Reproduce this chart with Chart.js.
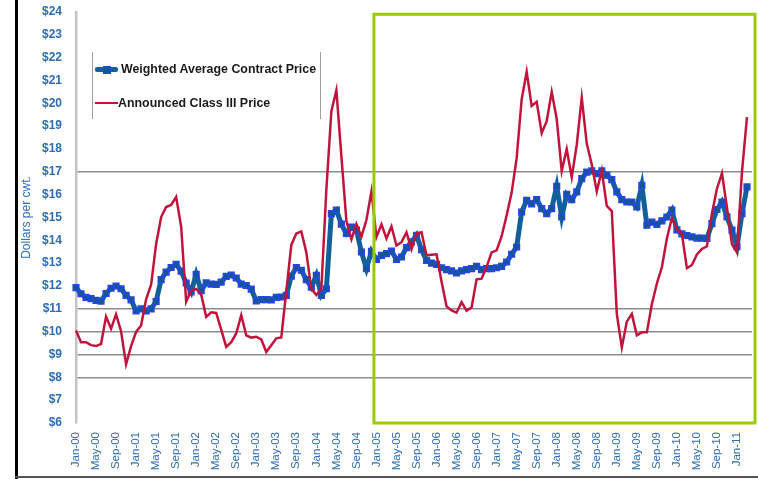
<!DOCTYPE html>
<html>
<head>
<meta charset="utf-8">
<script src="https://cdn.jsdelivr.net/npm/chart.js"></script>
<style>
    body { margin: 0; background: #ffffff; }
    #wrap { position: relative; width: 758px; height: 479px; overflow: hidden; }
    #priceChart { position: absolute; left: 0; top: 0; }
    .frame-left { position: absolute; left: 15px; top: 0; width: 3px; height: 479px; background: #000; }
    .frame-bottom { position: absolute; left: 15px; top: 476px; width: 743px; height: 2px; background: #555; }
    .legend { position: absolute; left: 92px; top: 52px; width: 227px; height: 67px;
              border-left: 1.5px solid #a0a0a0; border-right: 1.5px solid #a0a0a0;
              font: bold 12.4px "Liberation Sans", Arial, sans-serif; color: #1a1a1a; }
    .legend .item { position: absolute; left: 2px; height: 14px; line-height: 14px; white-space: nowrap; }
    .legend .sample { position: absolute; left: 0; top: 50%; width: 23px; }
    .legend .blue { height: 5px; margin-top: -2.5px; background: #11609b; border-radius: 2px; }
    .legend .blue i { position: absolute; left: 8px; top: -1px; width: 6px; height: 6px;
                      background: #0d5a90; border: 1px solid #2a45e0; }
    .legend .red { height: 2.5px; margin-top: -1.25px; background: #c0143c; }
</style>
</head>
<body>
<div id="wrap">
    <canvas id="priceChart" width="758" height="479"></canvas>
    <div class="frame-left"></div>
    <div class="frame-bottom"></div>
    <div class="legend">
        <div class="item" style="top:10px;"><span class="sample blue"><i></i></span><span style="margin-left:26px;">Weighted Average Contract Price</span></div>
        <div class="item" style="top:44px;"><span class="sample red"></span><span style="margin-left:23px;">Announced Class III Price</span></div>
    </div>
</div>
<script>
// Monthly prices, Jan-00 .. Mar-11 ($ per cwt.)
const monthNames = ['Jan', 'Feb', 'Mar', 'Apr', 'May', 'Jun', 'Jul', 'Aug', 'Sep', 'Oct', 'Nov', 'Dec'];
const yearCodes = ['00', '01', '02', '03', '04', '05', '06', '07', '08', '09', '10', '11'];

const contractPrice = [
    11.93, 11.66, 11.50, 11.45, 11.37, 11.34, 11.67, 11.90, 12.00, 11.88, 11.59, 11.39,
    10.91, 11.00, 10.91, 11.00, 11.32, 12.28, 12.61, 12.81, 12.95, 12.65, 12.13, 11.74,
    12.51, 11.80, 12.14, 12.08, 12.07, 12.17, 12.42, 12.48, 12.35, 12.08, 12.02, 11.86,
    11.35, 11.40, 11.40, 11.39, 11.50, 11.52, 11.59, 12.43, 12.81, 12.69, 12.28, 11.95,
    12.47, 11.59, 11.88, 15.17, 15.33, 14.71, 14.30, 14.58, 14.45, 13.49, 12.76, 13.52,
    13.16, 13.34, 13.42, 13.53, 13.16, 13.27, 13.68, 13.93, 14.22, 13.59, 13.12, 13.00,
    12.95, 12.80, 12.72, 12.66, 12.57, 12.66, 12.72, 12.76, 12.86, 12.72, 12.76, 12.76,
    12.80, 12.86, 13.05, 13.39, 13.71, 15.24, 15.75, 15.60, 15.78, 15.39, 15.17, 15.39,
    16.37, 15.02, 16.01, 15.78, 16.12, 16.70, 16.99, 17.04, 16.92, 17.04, 16.85, 16.66,
    16.12, 15.78, 15.68, 15.68, 15.46, 16.41, 14.66, 14.80, 14.70, 14.85, 15.02, 15.33,
    14.46, 14.28, 14.21, 14.15, 14.10, 14.10, 14.08, 14.73, 15.35, 15.68, 15.03, 14.45,
    13.72, 15.17, 16.34
];

const classIIIPrice = [
    10.05, 9.54, 9.54, 9.41, 9.37, 9.46, 10.66, 10.13, 10.76, 10.02, 8.57, 9.37,
    9.99, 10.27, 11.42, 12.06, 13.83, 15.02, 15.46, 15.55, 15.90, 14.60, 11.31, 11.80,
    11.87, 11.63, 10.65, 10.85, 10.82, 10.09, 9.33, 9.54, 9.92, 10.72, 9.84, 9.74,
    9.78, 9.66, 9.11, 9.41, 9.71, 9.75, 11.78, 13.80, 14.30, 14.39, 13.47, 11.87,
    11.61, 11.89, 16.23, 19.66, 20.58, 17.68, 14.85, 14.04, 14.72, 14.16, 14.89, 16.14,
    14.14, 14.70, 14.08, 14.61, 13.77, 13.92, 14.35, 13.60, 14.30, 14.35, 13.35, 13.37,
    13.39, 12.20, 11.11, 10.93, 10.83, 11.29, 10.92, 11.06, 12.29, 12.32, 12.84, 13.47,
    13.56, 14.18, 15.09, 16.09, 17.60, 20.17, 21.38, 19.89, 20.07, 18.70, 19.22, 20.50,
    19.32, 17.03, 18.00, 16.76, 18.18, 20.25, 18.24, 17.32, 16.14, 17.06, 15.51, 15.28,
    10.78, 9.31, 10.44, 10.78, 9.84, 9.97, 9.97, 11.20, 12.11, 12.82, 14.08, 14.98,
    14.50, 14.28, 12.78, 12.92, 13.38, 13.62, 13.74, 15.18, 16.26, 16.94, 15.44, 13.83,
    13.48, 17.00, 19.40
];

// y values that carry a visible gridline in the original
const gridValues = [8, 9, 10, 11, 17];

// category labels Jan-00 .. Apr-11 (one empty slot after the last month)
const labels = [];
yearCodes.forEach(yy => monthNames.forEach(m => labels.push(m + '-' + yy)));
labels.length = 136;

const tickBlue = '#2e6db4';

// green frame around 2005 onwards
const highlightBox = {
    id: 'highlightBox',
    afterDatasetsDraw(chart) {
        const ctx = chart.ctx;
        const x = chart.scales.x;
        const y = chart.scales.y;
        const left = x.getPixelForValue(59.5);
        const right = chart.chartArea.right + 3;
        const top = y.getPixelForValue(23.9);
        const bottom = y.getPixelForValue(6);
        ctx.save();
        ctx.strokeStyle = '#99cc00';
        ctx.lineWidth = 3;
        ctx.strokeRect(left, top, right - left, bottom - top);
        ctx.restore();
    }
};

new Chart(document.getElementById('priceChart'), {
    type: 'line',
    data: {
        labels: labels,
        datasets: [{
            label: 'Announced Class III Price',
            data: classIIIPrice,
            borderColor: '#c0143c',
            borderWidth: 2.5,
            pointRadius: 0,
            tension: 0,
            order: 0
        }, {
            label: 'Weighted Average Contract Price',
            data: contractPrice,
            borderColor: '#11609b',
            borderWidth: 5,
            pointStyle: 'rect',
            pointRadius: 4,
            pointBackgroundColor: '#0d5a90',
            pointBorderColor: '#2a45e0',
            pointBorderWidth: 1.5,
            tension: 0,
            order: 1
        }]
    },
    options: {
        responsive: false,
        animation: false,
        layout: { padding: { left: 16, right: 6, top: 12, bottom: 0 } },
        plugins: {
            legend: { display: false },
            tooltip: { enabled: false }
        },
        scales: {
            x: {
                offset: false,
                grid: { display: false },
                border: { display: false },
                afterFit(scale) {
                    scale.height = 56;
                    scale.paddingLeft = 0;
                    scale.paddingRight = 0;
                },
                ticks: {
                    autoSkip: false,
                    maxRotation: 90,
                    minRotation: 90,
                    padding: 1,
                    color: tickBlue,
                    font: { family: 'Liberation Sans', size: 11.5 },
                    callback: (val, i) => (i % 4 === 0 ? labels[i] : null)
                }
            },
            y: {
                min: 6,
                max: 24,
                afterFit(scale) {
                    scale.width = 60;
                    scale.paddingTop = 0;
                    scale.paddingBottom = 0;
                },
                border: { display: true, color: '#c4c4c4', width: 2.5 },
                grid: {
                    drawTicks: false,
                    lineWidth: 1.5,
                    color: c => (gridValues.includes(c.tick.value) ? '#8c8c8c' : 'rgba(0,0,0,0)')
                },
                ticks: {
                    stepSize: 1,
                    padding: 14,
                    color: tickBlue,
                    font: { family: 'Liberation Sans', size: 12, weight: 'bold' },
                    callback: v => '$' + v
                },
                title: {
                    display: true,
                    text: 'Dollars per cwt.',
                    color: tickBlue,
                    padding: { top: 3, bottom: 3 },
                    font: { family: 'Liberation Sans', size: 12 }
                }
            }
        }
    },
    plugins: [highlightBox]
});
</script>
</body>
</html>
